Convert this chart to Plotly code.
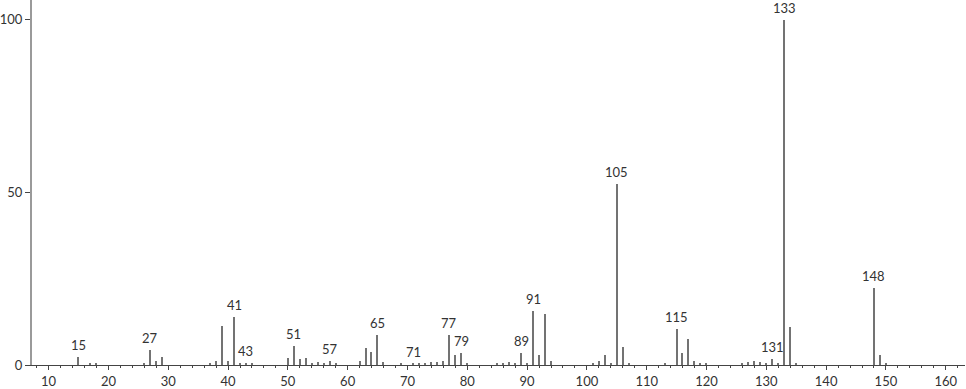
import plotly.graph_objects as go

mz = [15, 17, 18, 26, 27, 28, 29, 37, 38, 39, 40, 41, 42, 43, 44,
      50, 51, 52, 53, 54, 55, 56, 57, 58, 62, 63, 64, 65, 66,
      69, 71, 72, 73, 74, 75, 76, 77, 78, 79, 80,
      85, 86, 87, 88, 89, 90, 91, 92, 93, 94,
      101, 102, 103, 104, 105, 106, 107,
      113, 115, 116, 117, 118, 119, 120,
      126, 127, 128, 129, 130, 131, 132, 133, 134, 135,
      148, 149, 150]
intensity = [2.3, 0.3, 0.3, 0.6, 4.3, 1.1, 2.4, 0.4, 1.2, 11.2, 1.2, 13.9, 0.7, 0.5, 0.3,
             1.9, 5.6, 1.8, 2.1, 0.5, 1.0, 0.3, 1.2, 0.3, 1.2, 4.9, 3.8, 8.6, 1.0,
             0.3, 0.3, 0.3, 0.4, 0.8, 0.9, 1.1, 8.6, 2.9, 3.5, 0.4,
             0.4, 0.6, 0.9, 0.4, 3.5, 0.4, 15.6, 3.0, 14.8, 1.2,
             0.3, 1.2, 3.0, 0.5, 52.4, 5.3, 0.3,
             0.3, 10.4, 3.4, 7.5, 1.2, 0.4, 0.3,
             0.4, 0.8, 1.2, 0.8, 0.5, 1.6, 0.5, 100.0, 11.0, 0.4,
             22.4, 2.9, 0.3]
labelled = [15, 27, 41, 43, 51, 57, 65, 71, 77, 79, 89, 91, 105, 115, 131, 133, 148]

x_ticks = list(range(10, 161, 10))
y_ticks = [0, 50, 100]

FONT = "Lato, 'DejaVu Sans', sans-serif"

fig = go.Figure()
fig.add_trace(go.Bar(x=mz, y=intensity, width=0.2,
                     marker=dict(color="#737373", line=dict(width=0)),
                     hoverinfo="skip"))

lookup = dict(zip(mz, intensity))
for m in labelled:
    fig.add_annotation(x=m, y=lookup[m], text=str(m), showarrow=False,
                       xanchor="center", yanchor="bottom", yshift=2,
                       font=dict(family=FONT, size=13, color="#333"))

fig.update_layout(
    width=966, height=389,
    margin=dict(l=29, r=1, t=0, b=22),
    paper_bgcolor="white", plot_bgcolor="white",
    showlegend=False, bargap=0,
    font=dict(family=FONT, size=13, color="#333"),
    xaxis=dict(range=[7.22, 163.22], tickvals=x_ticks, ticktext=[str(v) for v in x_ticks],
               showgrid=False, zeroline=False, showline=True, linecolor="#444", linewidth=1,
               ticks="outside", ticklen=4, tickcolor="#444", tickwidth=1,
               minor=dict(dtick=2, ticks="outside", ticklen=2, tickcolor="#444", showgrid=False),
               tickfont=dict(family=FONT, size=13, color="#333")),
    yaxis=dict(range=[0, 105.76], tickvals=y_ticks, ticktext=[str(v) for v in y_ticks],
               showgrid=False, zeroline=False, showline=True, linecolor="#9a9a9a", linewidth=2,
               ticks="outside", ticklen=5, tickcolor="#444", tickwidth=1,
               tickfont=dict(family=FONT, size=13, color="#333")),
)

fig.write_html("out.html")
